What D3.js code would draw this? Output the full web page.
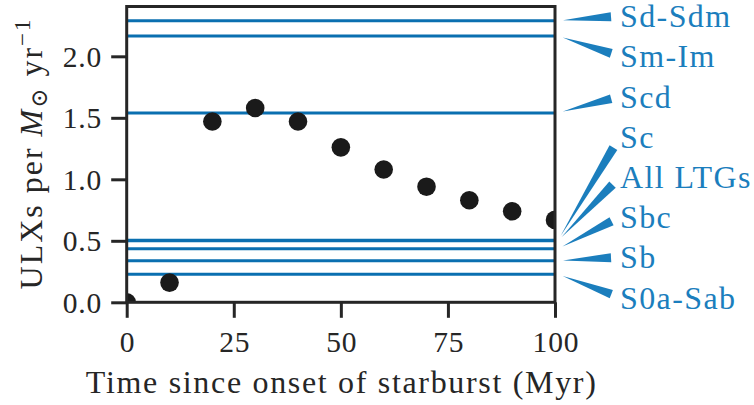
<!DOCTYPE html>
<html>
<head>
<meta charset="utf-8">
<script src="https://cdn.jsdelivr.net/npm/d3@7"></script>
<style>
  html, body { margin: 0; padding: 0; background: #fff; }
  svg { display: block; }
</style>
</head>
<body>
<svg id="chart" width="754" height="405"></svg>
<script>
// ULX yield per unit star formation rate after a starburst
const times = [0, 10, 20, 30, 40, 50, 60, 70, 80, 90, 100];
const ulxRate = [0.0, 0.16, 1.47, 1.58, 1.47, 1.26, 1.08, 0.94, 0.83, 0.74, 0.67];

// Observed rates for each galaxy morphology
const morphTypes = ["Sd-Sdm", "Sm-Im", "Scd", "Sc", "All LTGs", "Sbc", "Sb", "S0a-Sab"];
const morphRates = [2.29, 2.165, 1.54, 0.505, 0.50, 0.436, 0.338, 0.228];

const xTicks = [0, 25, 50, 75, 100];
const yTicks = [0.0, 0.5, 1.0, 1.5, 2.0];
const xDomain = [0, 100];
const yDomain = [0, 2.405];

const serif = '"Liberation Serif", "DejaVu Serif", serif';
const svg = d3.select("#chart");
const ink = "#262626";
const lineBlue = "#0a6fb0";
const noteBlue = "#1b7ebd";

const plot = { left: 126.7, right: 555, top: 6.5, bottom: 302.3 };
const x = d3.scaleLinear().domain(xDomain).range([plot.left, plot.right]);
const y = d3.scaleLinear().domain(yDomain).range([plot.bottom, plot.top]);

svg.append("defs").append("clipPath").attr("id", "plot-clip")
  .append("rect")
  .attr("x", plot.left).attr("y", plot.top)
  .attr("width", plot.right - plot.left).attr("height", plot.bottom - plot.top);

// horizontal reference lines across the axes
svg.append("g").attr("clip-path", "url(#plot-clip)")
  .selectAll("line").data(morphRates).join("line")
  .attr("x1", x(xDomain[0])).attr("x2", x(xDomain[1]))
  .attr("y1", d => y(d)).attr("y2", d => y(d))
  .attr("stroke", lineBlue).attr("stroke-width", 3);

// model points
svg.append("g").attr("clip-path", "url(#plot-clip)")
  .selectAll("circle").data(times).join("circle")
  .attr("cx", d => x(d))
  .attr("cy", (d, i) => y(ulxRate[i]))
  .attr("r", 9.3)
  .attr("fill", "#1a1a1a");

// axes
const tickLen = 15.5;
const xAxis = d3.axisBottom(x).tickValues(xTicks).tickFormat(d3.format("d"))
  .tickSizeInner(tickLen).tickSizeOuter(0).tickPadding(13);
const yAxis = d3.axisLeft(y).tickValues(yTicks).tickFormat(d3.format(".1f"))
  .tickSizeInner(tickLen).tickSizeOuter(0).tickPadding(10);

const gx = svg.append("g").attr("transform", `translate(0,${plot.bottom})`).call(xAxis);
const gy = svg.append("g").attr("transform", `translate(${plot.left},0)`).call(yAxis);
[gx, gy].forEach(g => {
  g.attr("font-family", null).attr("font-size", null);
  g.select(".domain").remove();
  g.selectAll(".tick line").attr("stroke", ink).attr("stroke-width", 3);
  g.selectAll(".tick text").attr("fill", ink)
    .style("font-family", serif).style("font-size", "29.5px")
    .style("letter-spacing", "0.8px");
});
gx.selectAll(".tick text").attr("dy", "0.71em").attr("dx", 0.4);
gy.selectAll(".tick text").attr("dy", "0.34em").attr("dx", 0.8);

// frame on all four sides
svg.append("rect")
  .attr("x", plot.left).attr("y", plot.top)
  .attr("width", plot.right - plot.left).attr("height", plot.bottom - plot.top)
  .attr("fill", "none").attr("stroke", ink).attr("stroke-width", 3);

// axis titles
svg.append("text")
  .attr("x", (plot.left + plot.right) / 2).attr("y", 393)
  .attr("text-anchor", "middle").attr("fill", ink)
  .style("font-family", serif).style("font-size", "32px")
  .attr("textLength", 510).attr("lengthAdjust", "spacing")
  .text("Time since onset of starburst (Myr)");

const yl = svg.append("text")
  .attr("transform", `translate(42,${(plot.top + plot.bottom) / 2}) rotate(-90)`)
  .attr("text-anchor", "middle").attr("fill", ink)
  .style("font-family", serif).style("font-size", "32px")
  .attr("textLength", 270).attr("lengthAdjust", "spacing");
yl.append("tspan").text("ULXs per ");
yl.append("tspan").attr("font-style", "italic").text("M");
yl.append("tspan").style("font-size", "23px").attr("dy", 5).text("⊙");
yl.append("tspan").attr("dy", -5).text(" yr");
yl.append("tspan").style("font-size", "23px").attr("dy", -12).text("−1");

// morphology labels with wedge pointers
const labelX = 620;
const labelTop = 16;
const labelStep = 40.2;
const wedgeWidth = 9;

const notes = svg.append("g");
morphTypes.forEach((name, i) => {
  const ly = labelTop + i * labelStep;
  notes.append("text")
    .attr("x", labelX).attr("y", ly).attr("dy", "0.35em")
    .attr("fill", noteBlue)
    .style("font-family", serif).style("font-size", "32px")
    .style("letter-spacing", "1.4px")
    .text(name);

  // pointer from the label's left edge toward the line end
  const sx = labelX, sy = ly;
  const px = x(xDomain[1]) + 3, py = y(morphRates[i]);
  const dx = px - sx, dy = py - sy;
  const len = Math.hypot(dx, dy);
  const ux = dx / len, uy = dy / len;
  const tailT = 4 / Math.abs(ux) + 5;
  const tail = [sx + ux * tailT, sy + uy * tailT];
  const head = [px - ux * 5, py - uy * 5];
  const nx = -uy, ny = ux;
  const h = wedgeWidth / 2;
  const pts = [
    [tail[0] + nx * h, tail[1] + ny * h],
    [tail[0] - nx * h, tail[1] - ny * h],
    head
  ];
  notes.append("path")
    .attr("d", d3.line()(pts) + "Z")
    .attr("fill", noteBlue);
});
</script>
</body>
</html>
